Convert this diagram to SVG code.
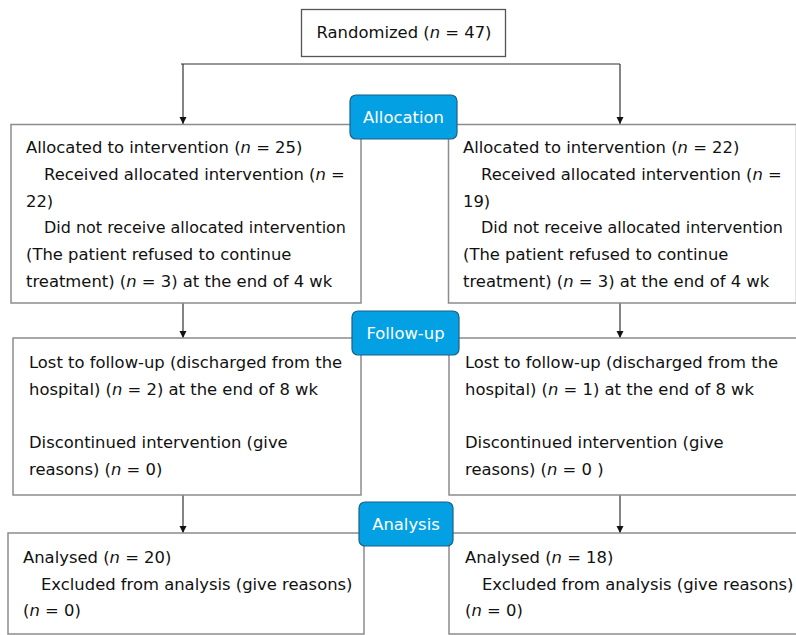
<svg xmlns="http://www.w3.org/2000/svg" width="796" height="635" viewBox="0 0 796 635">
<style>
.box{fill:#fff;stroke:#8c8c8c;stroke-width:1.5}
.top{fill:#fff;stroke:#555;stroke-width:1.3}
.pill{fill:#03a1e4;stroke:#1c5f86;stroke-width:1.2}
.t{font-family:"DejaVu Sans",Verdana,sans-serif;font-size:16.4px;fill:#111}
.pt{font-family:"DejaVu Sans",Verdana,sans-serif;font-size:16.4px;fill:#fff;text-anchor:middle}
.c{fill:none;stroke:#333;stroke-width:1.2}
.i{font-style:italic}
</style>
<defs>
<marker id="arr" markerWidth="8" markerHeight="8" refX="7" refY="4" orient="auto" markerUnits="userSpaceOnUse">
<path d="M0,0.5 L7,4 L0,7.5 Z" fill="#111"/>
</marker>
</defs>
<g id="connectors">
<line class="c" x1="181" y1="64" x2="620" y2="64"/>
<line class="c" x1="183" y1="64" x2="183" y2="124" marker-end="url(#arr)"/>
<line class="c" x1="620" y1="64" x2="620" y2="124" marker-end="url(#arr)"/>
<line class="c" x1="183" y1="303" x2="183" y2="338" marker-end="url(#arr)"/>
<line class="c" x1="620" y1="303" x2="620" y2="338" marker-end="url(#arr)"/>
<line class="c" x1="183" y1="495" x2="183" y2="533" marker-end="url(#arr)"/>
<line class="c" x1="620" y1="495" x2="620" y2="533" marker-end="url(#arr)"/>
</g>
<g id="randomized">
<rect class="top" x="301.5" y="9.5" width="204" height="47"/>
<text class="t" x="404" y="38" text-anchor="middle">Randomized (<tspan class="i">n</tspan> = 47)</text>
</g>
<g id="alloc-left">
<rect class="box" x="11" y="124.5" width="350" height="178.5"/>
<text class="t" x="26" y="153">Allocated to intervention (<tspan class="i">n</tspan> = 25)</text>
<text class="t" x="44" y="180">Received allocated intervention (<tspan class="i">n</tspan> =</text>
<text class="t" x="26" y="206.5">22)</text>
<text class="t" x="44" y="233" textLength="302" lengthAdjust="spacingAndGlyphs">Did not receive allocated intervention</text>
<text class="t" x="26" y="260">(The patient refused to continue</text>
<text class="t" x="26" y="286.5">treatment) (<tspan class="i">n</tspan> = 3) at the end of 4 wk</text>
</g>
<g id="alloc-right">
<rect class="box" x="448.5" y="124.5" width="348" height="178.5"/>
<text class="t" x="463" y="153">Allocated to intervention (<tspan class="i">n</tspan> = 22)</text>
<text class="t" x="481" y="180">Received allocated intervention (<tspan class="i">n</tspan> =</text>
<text class="t" x="463" y="206.5">19)</text>
<text class="t" x="481" y="233" textLength="302" lengthAdjust="spacingAndGlyphs">Did not receive allocated intervention</text>
<text class="t" x="463" y="260">(The patient refused to continue</text>
<text class="t" x="463" y="286.5">treatment) (<tspan class="i">n</tspan> = 3) at the end of 4 wk</text>
</g>
<g id="allocation">
<rect class="pill" x="350" y="95" width="107" height="44" rx="6"/>
<text class="pt" x="403.5" y="123">Allocation</text>
</g>
<g id="follow-left">
<rect class="box" x="13" y="338" width="348" height="157"/>
<text class="t" x="29" y="368">Lost to follow-up (discharged from the</text>
<text class="t" x="29" y="395">hospital) (<tspan class="i">n</tspan> = 2) at the end of 8 wk</text>
<text class="t" x="29" y="448">Discontinued intervention (give</text>
<text class="t" x="29" y="475">reasons) (<tspan class="i">n</tspan> = 0)</text>
</g>
<g id="follow-right">
<rect class="box" x="449" y="338" width="348" height="157"/>
<text class="t" x="465" y="368">Lost to follow-up (discharged from the</text>
<text class="t" x="465" y="395">hospital) (<tspan class="i">n</tspan> = 1) at the end of 8 wk</text>
<text class="t" x="465" y="448">Discontinued intervention (give</text>
<text class="t" x="465" y="475">reasons) (<tspan class="i">n</tspan> = 0 )</text>
</g>
<g id="followup">
<rect class="pill" x="352" y="311" width="107" height="44" rx="6"/>
<text class="pt" x="405.5" y="339">Follow-up</text>
</g>
<g id="analysis-left">
<rect class="box" x="8" y="533" width="356" height="101"/>
<text class="t" x="23" y="563">Analysed (<tspan class="i">n</tspan> = 20)</text>
<text class="t" x="41" y="589.5">Excluded from analysis (give reasons)</text>
<text class="t" x="23" y="616">(<tspan class="i">n</tspan> = 0)</text>
</g>
<g id="analysis-right">
<rect class="box" x="449" y="533" width="348" height="101"/>
<text class="t" x="465" y="563">Analysed (<tspan class="i">n</tspan> = 18)</text>
<text class="t" x="482" y="589.5">Excluded from analysis (give reasons)</text>
<text class="t" x="465" y="616">(<tspan class="i">n</tspan> = 0)</text>
</g>
<g id="analysis">
<rect class="pill" x="359" y="502" width="94" height="44" rx="6"/>
<text class="pt" x="406" y="530">Analysis</text>
</g>
</svg>
